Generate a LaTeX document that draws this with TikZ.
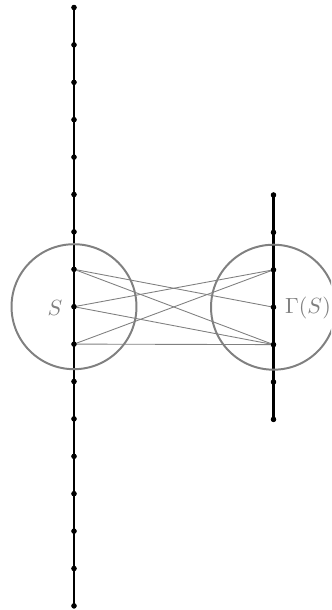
\documentclass[tikz,border=0pt]{standalone}
\begin{document}
\begin{tikzpicture}[x=0.4545pt,y=-0.4545pt,
  vtx/.style={circle,fill=black,inner sep=0pt,minimum size=2.4pt},
  chain/.style={black,line width=1.3pt},
  edge/.style={gray,line width=0.4pt},
  ring/.style={gray,line width=0.9pt},
  lbl/.style={text=gray,inner sep=0pt}]
\useasboundingbox (0,0) rectangle (331,610);
\clip (0,0) rectangle (331,610);
% left chain
\foreach \i in {0,...,16} {
  \node[vtx] (L\i) at (74,{7.5+\i*37.4}) {};
}
\draw[chain] (L0.center) -- (L16.center);
% right chain
\foreach \i in {0,...,6} {
  \node[vtx] (R\i) at (273.5,{195+\i*37.4}) {};
}
\draw[chain] (R0.center) -- (R6.center);
% circles
\node[ring,draw,circle,minimum size=125\pgflinewidth,inner sep=0pt,minimum size=56.8pt] (CL) at (L8) {};
\node[ring,draw,circle,inner sep=0pt,minimum size=56.8pt] (CR) at (R3) {};
% edges
\draw[edge] (L7.center) -- (R3.center);
\draw[edge] (L7.center) -- (R4.center);
\draw[edge] (L8.center) -- (R2.center);
\draw[edge] (L8.center) -- (R4.center);
\draw[edge] (L9.center) -- (R2.center);
\draw[edge] (L9.center) -- (R4.center);
% redraw vertices on top
\foreach \i in {0,...,16} { \fill (L\i) circle (1.2pt); }
\foreach \i in {0,...,6} { \fill (R\i) circle (1.2pt); }
% labels
\node[lbl] (lS) at (55,307.5) {$S$};
\node[lbl] (lG) at (308,307.5) {$\Gamma(S)$};
\end{tikzpicture}
\end{document}
